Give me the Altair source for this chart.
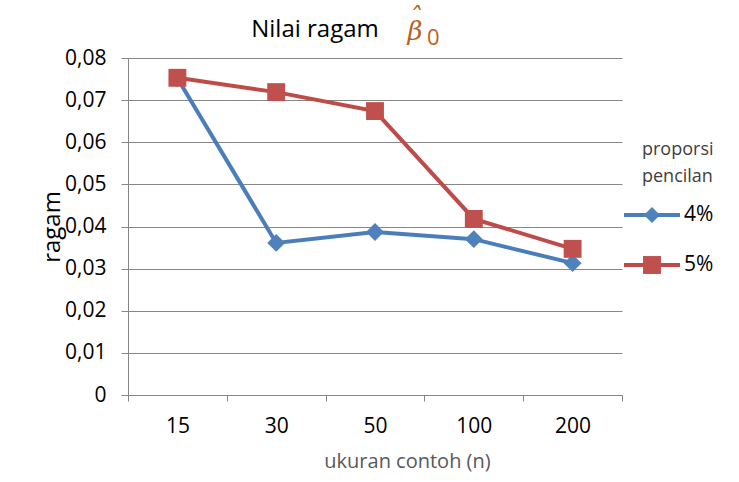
import altair as alt
import pandas as pd

categories = ["15", "30", "50", "100", "200"]
series_names = ["4%", "5%"]
values_4 = [0.0752, 0.0361, 0.0387, 0.0370, 0.0313]
values_5 = [0.0753, 0.0719, 0.0674, 0.0418, 0.0347]
y_ticks = [0, 0.01, 0.02, 0.03, 0.04, 0.05, 0.06, 0.07, 0.08]
legend_title_lines = ["proporsi", "pencilan"]

rows = []
for c, v in zip(categories, values_4):
    rows.append({"n": c, "ragam": v, "proporsi": "4%"})
for c, v in zip(categories, values_5):
    rows.append({"n": c, "ragam": v, "proporsi": "5%"})
df = pd.DataFrame(rows)

FONT = "Open Sans"
line_colors = ["#4a7ebb", "#be4b48"]
marker_colors = ["#4f81bd", "#c0504d"]
marker_shapes = ["diamond", "square"]
marker_sizes = [300, 361]

x_enc = alt.X(
    "n:N", sort=categories, bandPosition=0.5,
    scale=alt.Scale(type="band", paddingInner=0, paddingOuter=0),
    axis=alt.Axis(title="ukuran contoh (n)", tickBand="extent", labelAngle=0,
                  labelFont=FONT, labelFontSize=21, labelColor="#000000", labelPadding=14,
                  titleFont=FONT, titleFontSize=20, titleColor="#595959", titleFontWeight="normal",
                  titlePadding=15, titleX=279,
                  domainColor="#868686", tickColor="#868686", tickSize=6,
                  grid=False),
)
y_enc = alt.Y(
    "ragam:Q",
    scale=alt.Scale(domain=[0, 0.08], nice=False),
    axis=alt.Axis(title="ragam", values=y_ticks,
                  labelExpr="datum.value == 0 ? '0' : replace(format(datum.value, '.2f'), '.', ',')",
                  labelFont=FONT, labelFontSize=21, labelColor="#000000", labelPadding=15,
                  titleFont=FONT, titleFontSize=24, titleColor="#000000", titleFontWeight="normal",
                  titlePadding=0,
                  domainColor="#868686", tickColor="#868686", tickSize=7,
                  gridColor="#868686", gridWidth=1, gridOpacity=1),
)

base = alt.Chart(df)

lines = base.mark_line(strokeWidth=4).encode(
    x=x_enc, y=y_enc,
    color=alt.Color("proporsi:N", scale=alt.Scale(domain=series_names, range=line_colors), legend=None),
)

points = base.mark_point(filled=True, opacity=1, size=320).encode(
    x=x_enc, y=y_enc,
    fill=alt.Fill("proporsi:N", scale=alt.Scale(domain=series_names, range=marker_colors), legend=None),
    shape=alt.Shape("proporsi:N", scale=alt.Scale(domain=series_names, range=marker_shapes), legend=None),
)

layers = [lines, points]

# legend (drawn as marks to the right of the plot)
legend_title = alt.Chart(pd.DataFrame({"t": [legend_title_lines]})).mark_text(
    font=FONT, fontSize=18, color="#404040", align="left", baseline="middle", lineHeight=27
).encode(text="t:N", x=alt.value(514), y=alt.value(92))
layers.append(legend_title)

for i, name in enumerate(series_names):
    yy = 157 + i * 50
    entry = pd.DataFrame({"label": [name]})
    layers.append(alt.Chart(entry).mark_rule(strokeWidth=4, color=line_colors[i]).encode(
        x=alt.value(496), x2=alt.value(552), y=alt.value(yy)))
    layers.append(alt.Chart(entry).mark_point(
        shape=marker_shapes[i], size=marker_sizes[i] - 40, filled=True, opacity=1, color=marker_colors[i]
    ).encode(x=alt.value(524), y=alt.value(yy)))
    layers.append(alt.Chart(entry).mark_text(
        font=FONT, fontSize=21, color="#000000", align="left", baseline="middle"
    ).encode(text="label:N", x=alt.value(556), y=alt.value(yy)))

title_text = alt.Chart(pd.DataFrame({"t": ["Nilai ragam"]})).mark_text(
    font=FONT, fontSize=24, color="#000000", align="center", baseline="alphabetic"
).encode(text="t:N", x=alt.value(187), y=alt.value(-21))

beta_text = alt.Chart(pd.DataFrame({"t": [["ˆ", "β"]]})).mark_text(
    font="DejaVu Serif", fontSize=26, fontStyle="italic", color="#b8621b",
    align="center", baseline="alphabetic", lineHeight=14
).encode(text="t:N", x=alt.value(287), y=alt.value(-32))

sub_text = alt.Chart(pd.DataFrame({"t": ["0"]})).mark_text(
    font=FONT, fontSize=22, color="#b8621b",
    align="left", baseline="alphabetic"
).encode(text="t:N", x=alt.value(299), y=alt.value(-13))

layers += [title_text, beta_text, sub_text]

chart = alt.layer(*layers).properties(
    width=494, height=337,
    autosize=alt.AutoSizeParams(type="none"),
    padding={"left": 128, "top": 58, "right": 117, "bottom": 87},
).configure(font=FONT).configure_view(stroke=None)

chart.save("out.html", embed_options={"renderer": "svg", "actions": False})
